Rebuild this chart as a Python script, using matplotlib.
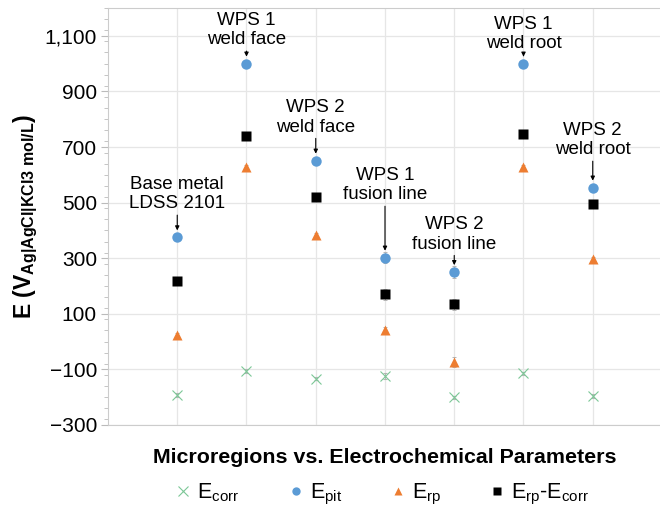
import matplotlib.pyplot as plt
from matplotlib.lines import Line2D
from matplotlib.ticker import MultipleLocator, FuncFormatter

plt.rcParams['font.family'] = ['Liberation Sans', 'DejaVu Sans']
plt.rcParams['mathtext.fontset'] = 'custom'
plt.rcParams['mathtext.rm'] = 'Liberation Sans'
plt.rcParams['mathtext.it'] = 'Liberation Sans'
plt.rcParams['mathtext.bf'] = 'Liberation Sans:bold'

regions = ["Base metal\nLDSS 2101", "WPS 1\nweld face", "WPS 2\nweld face",
           "WPS 1\nfusion line", "WPS 2\nfusion line", "WPS 1\nweld root",
           "WPS 2\nweld root"]
pos = [1, 2, 3, 4, 5, 6, 7]

e_corr = [-192, -106, -133, -124, -201, -114, -196]
e_pit = [375, 1000, 651, 302, 250, 1000, 554]
e_rp = [25, 628, 384, 43, -73, 628, 298]
e_diff = [219, 738, 520, 171, 135, 745, 495]

err_corr = [6, 6, 6, 10, 6, 6, 6]
err_pit = [6, 6, 6, 20, 22, 6, 6]
err_rp = [6, 6, 6, 10, 18, 6, 6]
err_diff = [6, 6, 6, 20, 20, 6, 6]

# label offset above the E_pit marker (points)
label_off = [18, 11, 18, 39, 14, 8, 21]

colors = ['#7cc796', '#5b9bd5', '#ed7d31', 'black']
labels = [r'E$_{\rm corr}$', r'E$_{\rm pit}$', r'E$_{\rm rp}$', r'E$_{\rm rp}$-E$_{\rm corr}$']

fig = plt.figure(figsize=(6.6, 5.23), dpi=100)
ax = fig.add_axes([108 / 660, 98 / 523, 554 / 660, 417 / 523])

ebkw = dict(ecolor='#b5b5b5', elinewidth=0.7, capsize=1.5, capthick=0.7, linestyle='none')
ax.errorbar(pos, e_corr, yerr=err_corr, marker='x', ms=7, mew=0.8, color=colors[0], **ebkw)
ax.errorbar(pos, e_pit, yerr=err_pit, marker='o', ms=7.5, color=colors[1], mec='none', **ebkw)
ax.errorbar(pos, e_rp, yerr=err_rp, marker='^', ms=7.5, color=colors[2], mec='none', **ebkw)
ax.errorbar(pos, e_diff, yerr=err_diff, marker='s', ms=7, color=colors[3], mec='none', **ebkw)

for x, y, lab, off in zip(pos, e_pit, regions, label_off):
    ax.annotate(lab, xy=(x, y), xytext=(0, off), textcoords='offset points',
                ha='center', va='bottom', fontsize=13.5, linespacing=1.2,
                arrowprops=dict(arrowstyle='-|>', color='black', lw=0.8,
                                mutation_scale=6, shrinkA=0, shrinkB=5))

ax.set_xlim(0, 8)
ax.set_ylim(-300, 1200)
ax.set_xticks(pos)
ax.set_xticklabels([])
ax.tick_params(axis='x', length=0)
ax.yaxis.set_minor_locator(MultipleLocator(40))
ax.set_yticks([-300, -100, 100, 300, 500, 700, 900, 1100])
ax.yaxis.set_major_formatter(FuncFormatter(lambda v, p: '{:,}'.format(int(v)).replace('-', '\u2212')))
ax.tick_params(axis='y', which='major', length=5, color='#bbbbbb', labelsize=15, pad=3)
ax.tick_params(axis='y', which='minor', length=3, color='#bbbbbb')

ax.grid(True, which='major', color='#e6e6e6', lw=0.9)
ax.set_axisbelow(True)
for s in ['left', 'bottom', 'top']:
    ax.spines[s].set_color('#cccccc')
ax.spines['right'].set_visible(False)

ax.set_xlabel('Microregions vs. Electrochemical Parameters', fontsize=15.4,
              fontweight='bold', labelpad=13)
ax.set_ylabel(r'$\mathbf{E\ (V_{Ag|AgCl|KCl3\ mol/L})}$', fontsize=16.5, labelpad=3)

handles = [Line2D([], [], ls='none', marker='x', ms=7, mew=0.8, color=colors[0]),
           Line2D([], [], ls='none', marker='o', ms=6, color=colors[1], mec='none'),
           Line2D([], [], ls='none', marker='^', ms=6, color=colors[2], mec='none'),
           Line2D([], [], ls='none', marker='s', ms=5.5, color=colors[3], mec='none')]
fig.legend(handles, labels, loc='center', bbox_to_anchor=(382 / 660, 1 - 494 / 523), ncol=4,
           frameon=False, fontsize=15.5, handletextpad=0.25, columnspacing=2.2,
           handlelength=0.8)

fig.savefig('out.png', dpi=100)
